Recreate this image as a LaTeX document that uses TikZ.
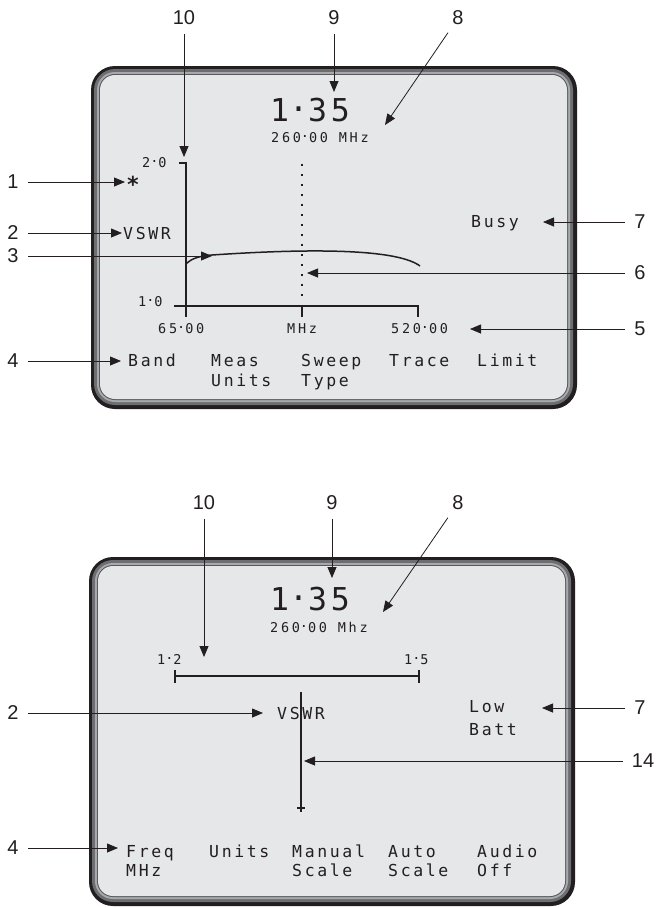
\documentclass[tikz,border=0pt]{standalone}
\usepackage{fontspec}
\usetikzlibrary{arrows.meta}
\newfontfamily\lcdfont[LetterSpace=16]{DejaVu Sans Mono}
\newfontfamily\lcdsmallfont[LetterSpace=20]{DejaVu Sans Mono}
\newfontfamily\lcdbigfont[LetterSpace=12]{DejaVu Sans Mono}
\newfontfamily\callfont{Liberation Sans}
\newcommand\lcddot{\raisebox{0.3em}{.}}
\definecolor{lcdbg}{HTML}{E6E7E8}
\definecolor{frameA}{HTML}{231F20}
\definecolor{frameB}{HTML}{6D6E71}
\definecolor{frameC}{HTML}{A7A9AC}
\definecolor{frameD}{HTML}{58595B}
\definecolor{ink}{HTML}{231F20}
\newcommand\lcdframe[4]{%
  \fill[frameA, rounded corners=24pt] (#1,#2) rectangle (#3,#4);
  \fill[frameB, rounded corners=21pt] (#1+3,#2+3) rectangle (#3-4,#4-4);
  \fill[frameC, rounded corners=18pt] (#1+6,#2+6) rectangle (#3-7,#4-7);
  \fill[frameD, rounded corners=16pt] (#1+8,#2+8) rectangle (#3-9,#4-9);
  \fill[lcdbg, rounded corners=15pt] (#1+9,#2+9) rectangle (#3-10,#4-10);
}
\tikzset{
  lcdtxt/.style={inner sep=0pt, anchor=base west, text=ink, font=\lcdfont\fontsize{16.5}{20}\selectfont},
  lcdsmall/.style={inner sep=0pt, anchor=base west, text=ink, font=\lcdsmallfont\fontsize{13.5}{16}\selectfont},
  lcdbig/.style={inner sep=0pt, anchor=base west, text=ink, font=\lcdbigfont\fontsize{31.5}{36}\selectfont},
  callnum/.style={inner sep=0pt, text=ink, font=\callfont\fontsize{20}{24}\selectfont},
  call/.style={draw=ink, line width=0.8pt, shorten <=9pt, -{Triangle[length=11pt,width=9pt]}},
  axis/.style={draw=ink, line width=1.5pt},
}
\begin{document}
\begin{tikzpicture}[x=1pt, y=-1pt]
\useasboundingbox (0,0) rectangle (662,908);
\fill[white] (0,0) rectangle (662,908);

% ================= TOP PANEL =================
\lcdframe{91}{66}{577}{409}

\node[lcdbig] (valA) at (270,121) {1\lcddot35};
\node[lcdsmall] (freqA) at (271,142) {260\lcddot00 MHz};
\node[lcdsmall] (ymaxA) at (142,167) {2\lcddot0};
\node[lcdsmall] (yminA) at (138,306) {1\lcddot0};
\node[lcdsmall] (xminA) at (158,333) {65\lcddot00};
\node[lcdsmall] (xunitA) at (287,333) {MHz};
\node[lcdsmall] (xmaxA) at (391,333) {520\lcddot00};
\node[inner sep=0pt, anchor=base, text=ink, font=\lcdfont\fontsize{22}{24}\selectfont\bfseries] (starA) at (133,192) {*};
\node[lcdtxt] (vswrA) at (123,239) {VSWR};
\node[lcdtxt] (busyA) at (471,227) {Busy};
\node[lcdtxt] (bandA) at (128,366) {Band};
\node[lcdtxt] (measA) at (211,366) {Meas};
\node[lcdtxt] (unitsA) at (211,386) {Units};
\node[lcdtxt] (sweepA) at (301,366) {Sweep};
\node[lcdtxt] (typeA) at (301,386) {Type};
\node[lcdtxt] (traceA) at (389,366) {Trace};
\node[lcdtxt] (limitA) at (477,366) {Limit};

% graph
\draw[axis] (179,163) -- (186,163) -- (186,317);
\draw[axis] (174,306) -- (418,306) -- (418,317);
\draw[axis] (302,306) -- (302,317);
\draw[ink, line width=1.6pt, dash pattern=on 1.6pt off 8.4pt] (302,164) -- (302,302);
\draw[ink, line width=1.5pt] (186,264) .. controls (192,258) and (200,256) .. (212,255)
   .. controls (330,247) and (400,251) .. (420,266);

% callouts top
\node[callnum] (cA10) at (184,18) {10};
\node[callnum] (cA9) at (334,18) {9};
\node[callnum] (cA8) at (458,18) {8};
\node[callnum] (cA1) at (13,182) {1};
\node[callnum] (cA2) at (13,233) {2};
\node[callnum] (cA3) at (13,256) {3};
\node[callnum] (cA4) at (13,361) {4};
\node[callnum] (cA7) at (640,222) {7};
\node[callnum] (cA6) at (640,273) {6};
\node[callnum] (cA5) at (640,329) {5};
\coordinate (tA10) at (184,157);
\coordinate (tA9) at (334,92);
\coordinate (tA8) at (385,125);
\coordinate (tA1) at (125,182);
\coordinate (tA2) at (122,233);
\coordinate (tA3) at (212,256);
\coordinate (tA4) at (121,361);
\coordinate (tA7) at (543,222);
\coordinate (tA6) at (307,273);
\coordinate (tA5) at (470,329);
\foreach \n in {10,9,8,1,2,3,4,7,6,5} {\draw[call] (cA\n) -- (tA\n);}

% ================= BOTTOM PANEL =================
\lcdframe{89}{557}{575}{906}

\node[lcdbig] (valB) at (270,610) {1\lcddot35};
\node[lcdsmall] (freqB) at (270,632) {260\lcddot00 Mhz};
\node[lcdsmall] (sminB) at (157,664) {1\lcddot2};
\node[lcdsmall] (smaxB) at (404,664) {1\lcddot5};
\node[lcdtxt] (vswrB) at (277,719) {VSWR};
\node[lcdtxt] (lowB) at (469,712) {Low};
\node[lcdtxt] (battB) at (469,735) {Batt};
\node[lcdtxt] (freqkB) at (126,857) {Freq};
\node[lcdtxt] (mhzB) at (126,876) {MHz};
\node[lcdtxt] (unitsB) at (209,857) {Units};
\node[lcdtxt] (manualB) at (292,857) {Manual};
\node[lcdtxt] (scaleB) at (292,876) {Scale};
\node[lcdtxt] (autoB) at (388,857) {Auto};
\node[lcdtxt] (scaleB2) at (388,876) {Scale};
\node[lcdtxt] (audioB) at (477,857) {Audio};
\node[lcdtxt] (offB) at (477,876) {Off};

% scale bar
\draw[axis] (175,676) -- (419,676);
\draw[axis] (175,670) -- (175,683);
\draw[axis] (419,670) -- (419,683);
\draw[axis] (301,692) -- (301,812);
\draw[ink, line width=1.2pt] (297,808) -- (305,808);

% callouts bottom
\node[callnum] (cB10) at (204,503) {10};
\node[callnum] (cB9) at (332,503) {9};
\node[callnum] (cB8) at (458,503) {8};
\node[callnum] (cB2) at (13,713) {2};
\node[callnum] (cB4) at (13,848) {4};
\node[callnum] (cB7) at (640,708) {7};
\node[callnum] (cB14) at (643,761) {14};
\coordinate (tB10) at (204,657);
\coordinate (tB9) at (332,578);
\coordinate (tB8) at (383,612);
\coordinate (tB2) at (263,713);
\coordinate (tB4) at (118,848);
\coordinate (tB7) at (542,708);
\coordinate (tB14) at (304,761);
\foreach \n in {10,9,8,2,4,7,14} {\draw[call] (cB\n) -- (tB\n);}
\end{tikzpicture}
\end{document}
